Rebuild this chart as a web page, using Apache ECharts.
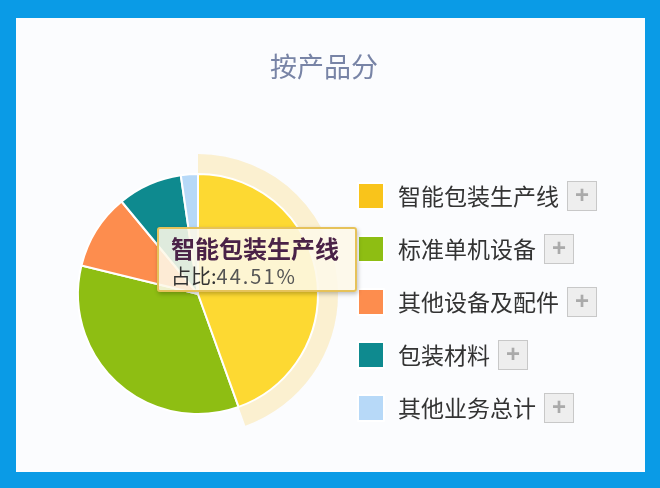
<!DOCTYPE html>
<html>
<head>
<meta charset="utf-8">
<script src="https://cdn.jsdelivr.net/npm/echarts@6/dist/echarts.min.js"></script>
<style>
  html, body { margin: 0; padding: 0; background: #0a9be6; }
  #main { position: absolute; left: 16px; top: 18px; width: 629px; height: 454px; background: #fbfcfe; }
</style>
</head>
<body>
<div id="main"></div>
<script>
// 按产品分 - 占比 (%)
var names = ["智能包装生产线", "标准单机设备", "其他设备及配件", "包装材料", "其他业务总计"];
var shares = [44.51, 34.3, 10.2, 8.7, 2.29];
var colors = ["#f9c41b", "#8ebe13", "#fd8d4e", "#0e8a8f", "#b7d9f8"];

var chart = echarts.init(document.getElementById("main"));

var pieData = names.map(function (n, i) {
  return { name: n, value: shares[i], itemStyle: { color: colors[i] } };
});
// halo ring around the highlighted slice
var haloData = names.map(function (n, i) {
  return {
    name: n,
    value: shares[i],
    itemStyle: { color: i === 0 ? "rgba(250,210,90,0.28)" : "rgba(0,0,0,0)" }
  };
});

var option = {
  animation: false,
  title: {
    text: "按产品分",
    left: 249,
    top: 30,
    textStyle: { fontSize: 27, fontWeight: "normal", color: "#7884a6", fontFamily: "Noto Sans CJK SC" }
  },
  tooltip: {
    trigger: "item",
    triggerOn: "none",
    alwaysShowContent: true,
    transitionDuration: 0,
    position: [141, 209],
    backgroundColor: "rgba(253,248,232,0.88)",
    borderColor: "#e6c25a",
    borderWidth: 2,
    padding: [4, 16, 2, 12],
    extraCssText: "box-shadow: 1px 2px 4px rgba(0,0,0,0.25); border-radius: 3px;",
    formatter: function (p) {
      return '<div style="font-family:\'Noto Sans CJK SC\';font-weight:bold;font-size:24px;color:#4a2247;line-height:30px">' + p.name +
        '</div><div style="font-family:\'Noto Sans CJK SC\';font-size:20px;color:#333;line-height:25px">占比:' +
        '<span style="color:#555;letter-spacing:2px">' + p.value.toFixed(2) + '%</span></div>';
    }
  },
  legend: {
    orient: "vertical",
    left: 336,
    top: 158,
    itemWidth: 26,
    itemHeight: 26,
    itemGap: 23,
    icon: "rect",
    selectedMode: false,
    data: names,
    formatter: function (n) {
      return "{name|" + n + "}{plus|+}";
    },
    textStyle: {
      rich: {
        name: { fontSize: 23, color: "#333", fontFamily: "Noto Sans CJK SC", padding: [0, 9, 0, 9] },
        plus: {
          fontSize: 24, color: "#aaa", fontWeight: "bold",
          backgroundColor: "#eeeeee", borderColor: "#c8c8c8", borderWidth: 1,
          width: 28, height: 28, lineHeight: 28, align: "center"
        }
      }
    }
  },
  series: [
    {
      name: "按产品分",
      type: "pie",
      center: [182, 276],
      radius: [0, 120],
      startAngle: 90,
      clockwise: true,
      label: { show: false },
      labelLine: { show: false },
      itemStyle: { borderColor: "#ffffff", borderWidth: 2 },
      emphasis: { scale: false, itemStyle: { color: "#fdd932" } },
      data: pieData
    },
    {
      name: "halo",
      type: "pie",
      silent: true,
      center: [182, 276],
      radius: [119, 140],
      startAngle: 90,
      clockwise: true,
      label: { show: false },
      labelLine: { show: false },
      itemStyle: { borderWidth: 0 },
      emphasis: { disabled: true },
      tooltip: { show: false },
      data: haloData
    }
  ]
};

chart.setOption(option);
chart.dispatchAction({ type: "highlight", seriesIndex: 0, dataIndex: 0 });
chart.dispatchAction({ type: "showTip", seriesIndex: 0, dataIndex: 0 });
</script>
</body>
</html>
